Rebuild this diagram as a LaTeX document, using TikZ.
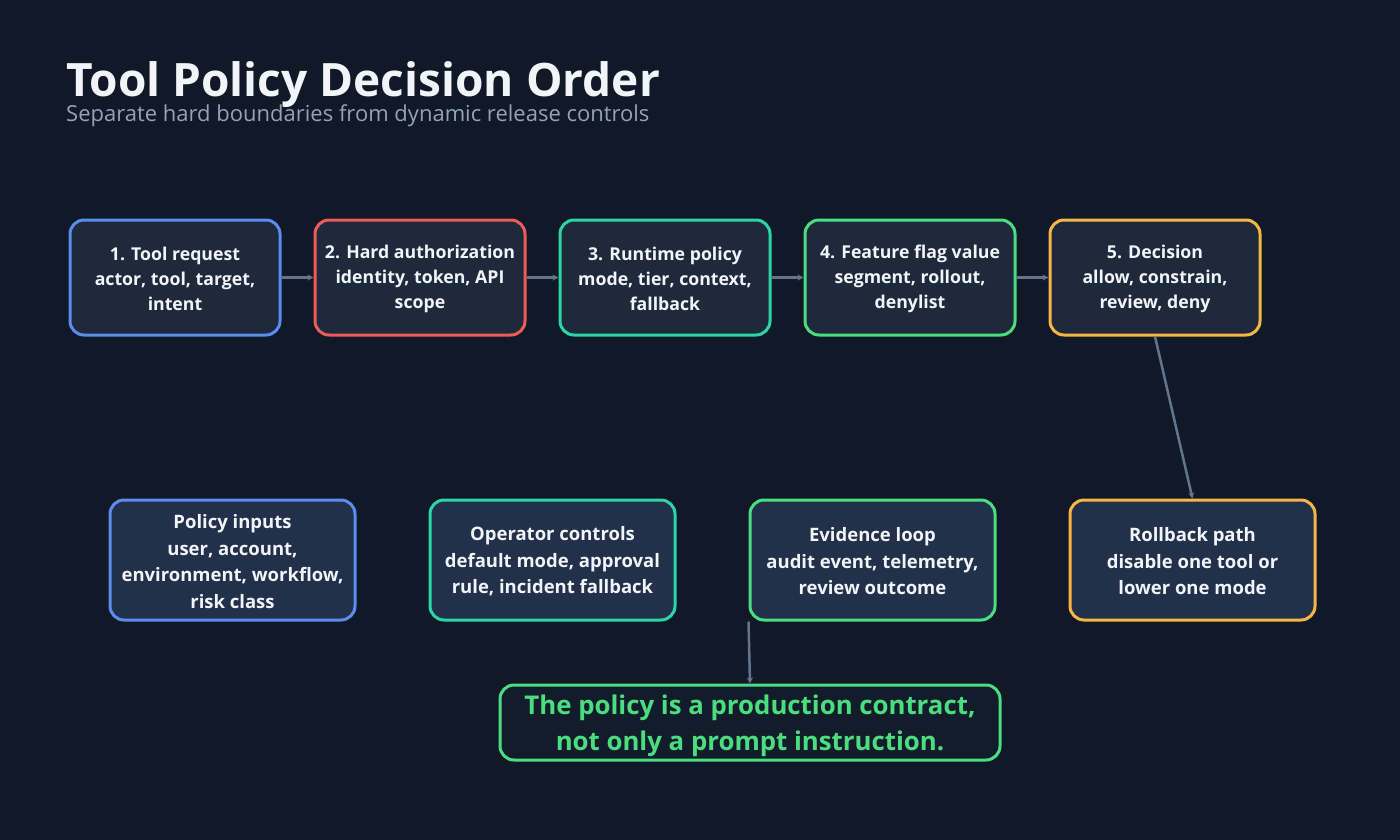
\documentclass[tikz,border=0pt]{standalone}
\usepackage{fontspec}
\setmainfont{Open Sans}
\usetikzlibrary{arrows.meta}
\definecolor{bg}{HTML}{111827}
\definecolor{topfill}{HTML}{1E293B}
\definecolor{botfill}{HTML}{22304A}
\definecolor{callfill}{HTML}{131C2B}
\definecolor{cblue}{HTML}{5B8DEF}
\definecolor{cred}{HTML}{EF5B5B}
\definecolor{cteal}{HTML}{2DD4A8}
\definecolor{cgreen}{HTML}{4ADE80}
\definecolor{corange}{HTML}{F6B544}
\definecolor{txt}{HTML}{F1F5F9}
\definecolor{sub}{HTML}{94A3B8}
\definecolor{arr}{HTML}{64748B}
\tikzset{
  boxbase/.style={draw, line width=3pt, rounded corners=14pt, inner sep=0pt},
  topbox/.style={boxbase, fill=topfill, minimum width=210pt, minimum height=115pt},
  botbox/.style={boxbase, fill=botfill, minimum width=245pt, minimum height=120pt},
  calloutbox/.style={boxbase, draw=cgreen, fill=callfill, minimum width=500pt, minimum height=75pt},
  toptext/.style={align=center, text=txt, font=\fontsize{17.7}{24.7}\selectfont\bfseries, inner sep=0pt, yshift=-1.5pt},
  bottext/.style={align=center, text=txt, font=\fontsize{18.5}{26.5}\selectfont\bfseries, inner sep=0pt, yshift=-1.5pt},
  calltext/.style={align=center, text=cgreen, font=\fontsize{25.8}{36}\selectfont\bfseries, inner sep=0pt, yshift=-3pt},
  conn/.style={draw=arr, line width=2.5pt, -{Stealth[length=6pt,width=6pt]}}
}
\begin{document}
\begin{tikzpicture}[x=1pt,y=-1pt]
\fill[bg] (0,0) rectangle (1400,840);
\useasboundingbox (0,0) rectangle (1400,840);
\node[anchor=base west, text=txt, font=\fontsize{46}{52}\selectfont\bfseries, inner sep=0pt] (title) at (66,97) {Tool Policy Decision Order};
\node[anchor=base west, text=sub, font=\fontsize{22}{26}\selectfont, inner sep=0pt] (subtitle) at (66,122) {Separate hard boundaries from dynamic release controls};

\node[topbox, draw=cblue, label={[toptext]center:{1. Tool request\\actor, tool, target,\\intent}}] (b1) at (175,277.5) {};
\node[topbox, draw=cred, label={[toptext]center:{2. Hard authorization\\identity, token, API\\scope}}] (b2) at (420,277.5) {};
\node[topbox, draw=cteal, label={[toptext]center:{3. Runtime policy\\mode, tier, context,\\fallback}}] (b3) at (665,277.5) {};
\node[topbox, draw=cgreen, label={[toptext]center:{4. Feature flag value\\segment, rollout,\\denylist}}] (b4) at (910,277.5) {};
\node[topbox, draw=corange, label={[toptext]center:{5. Decision\\allow, constrain,\\review, deny}}] (b5) at (1155,277.5) {};

\node[botbox, draw=cblue, label={[bottext]center:{Policy inputs\\user, account,\\environment, workflow,\\risk class}}] (pi) at (232.5,560) {};
\node[botbox, draw=cteal, label={[bottext]center:{Operator controls\\default mode, approval\\rule, incident fallback}}] (oc) at (552.5,560) {};
\node[botbox, draw=cgreen, label={[bottext]center:{Evidence loop\\audit event, telemetry,\\review outcome}}] (ev) at (872.5,560) {};
\node[botbox, draw=corange, label={[bottext]center:{Rollback path\\disable one tool or\\lower one mode}}] (rb) at (1192.5,560) {};

\node[calloutbox, label={[calltext]center:{The policy is a production contract,\\not only a prompt instruction.}}] (co) at (750,722.5) {};

\draw[conn] (b1) -- (b2);
\draw[conn] (b2) -- (b3);
\draw[conn] (b3) -- (b4);
\draw[conn] (b4) -- (b5);
\draw[conn] (b5.south) -- (rb.north);
\draw[conn] (ev.south west) -- (co.north);
\end{tikzpicture}
\end{document}
